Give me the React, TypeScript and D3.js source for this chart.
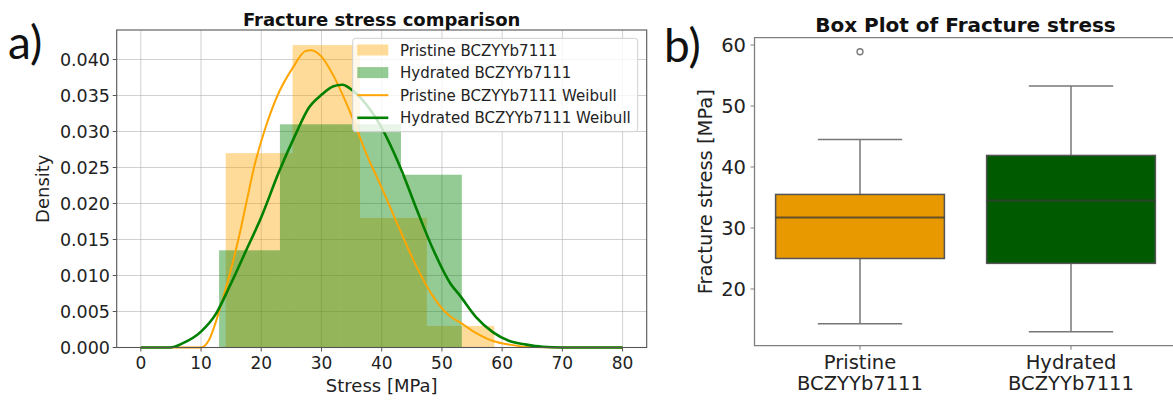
import React from 'react';
import * as d3 from 'd3';

// histogram bins (density)
const pristineEdges = [14.1, 25.2, 36.4, 47.5, 58.7];
const pristineDensity = [0.027, 0.042, 0.018, 0.003];
const hydratedEdges = [13.0, 23.1, 33.2, 43.2, 53.3];
const hydratedDensity = [0.0135, 0.031, 0.031, 0.024];

// weibull fits
const pristineFitX = [0, 5, 10, 11.3, 13.0, 14.7, 16.2, 17.5, 18.8, 20.5, 22.7, 25.2, 27.4, 28.3, 30, 31.9, 34.7, 37.5, 40, 43.1, 45.8, 48.6, 51.4, 53, 55.7, 58.5, 61.2, 64, 70, 80];
const pristineFitY = [0, 0, 0, 0.001, 0.005, 0.010, 0.015, 0.020, 0.025, 0.030, 0.035, 0.0388, 0.0412, 0.0413, 0.0404, 0.0379, 0.0328, 0.0268, 0.0222, 0.0162, 0.0112, 0.0070, 0.0043, 0.0035, 0.0020, 0.0009, 0.0004, 0.0001, 0, 0];
const hydratedFitX = [0, 4.8, 7, 10, 12.5, 14.7, 17.5, 20, 23, 25.7, 27.9, 30, 32, 33.5, 34.7, 37.5, 40, 43.1, 45.8, 48.6, 51.4, 53, 55.7, 58.5, 61.2, 64, 66.7, 70, 80];
const hydratedFitY = [0, 0, 0.0006, 0.0022, 0.0047, 0.0084, 0.0135, 0.0181, 0.0245, 0.0296, 0.0333, 0.0351, 0.0363, 0.0365, 0.0360, 0.0337, 0.0305, 0.0250, 0.0192, 0.0135, 0.0089, 0.0072, 0.0042, 0.0021, 0.0009, 0.0004, 0.0001, 0, 0];

const xTicks = [0, 10, 20, 30, 40, 50, 60, 70, 80];
const yTicks = [0, 0.005, 0.01, 0.015, 0.02, 0.025, 0.03, 0.035, 0.04];
const legendLabels = ['Pristine BCZYYb7111', 'Hydrated BCZYYb7111', 'Pristine BCZYYb7111 Weibull', 'Hydrated BCZYYb7111 Weibull'];

// box plot stats
const boxCategories = ['Pristine', 'Hydrated'];
const boxQ1 = [25.0, 24.2];
const boxMedian = [31.7, 34.5];
const boxQ3 = [35.5, 41.9];
const boxLow = [14.3, 13.0];
const boxHigh = [44.5, 53.3];
const boxOutliers = [[58.9], []];
const boxTicks = [20, 30, 40, 50, 60];

const ORANGE = '#ffa500';
const GREEN = '#008000';
const BOX_COLORS = ['#e89900', '#005a00'];
const FONT = 'DejaVu Sans, sans-serif';

export default function App() {
    const x = d3.scaleLinear().domain([-4, 84]).range([116.7, 646.7]);
    const y = d3.scaleLinear().domain([0, 0.0441]).range([347.5, 30]);

    const line = d3.line<number>().curve(d3.curveMonotoneX);
    const orangePath = line(pristineFitX.map((v, i) => [x(v), y(pristineFitY[i])]) as any);
    const greenPath = line(hydratedFitX.map((v, i) => [x(v), y(hydratedFitY[i])]) as any);

    const bx = d3.scaleBand().domain(boxCategories).range([754.5, 1176.5]).paddingInner(0.2).paddingOuter(0.1);
    const by = d3.scaleLinear().domain([10.7, 61.2]).range([345.7, 37.7]);
    const bw = bx.bandwidth();

    const bars = (edges: number[], dens: number[], color: string, op: number) =>
        dens.map((d, i) => (
            <rect key={i} x={x(edges[i])} y={y(d)} width={x(edges[i + 1]) - x(edges[i])} height={y(0) - y(d)}
                fill={color} fillOpacity={op} />
        ));

    return (
        <svg width={1173} height={401} style={{ position: 'absolute', left: 0, top: 0, background: 'white' }} fontFamily={FONT}>
            <text x={8} y={59} fontFamily="Lato, sans-serif" fontSize={46} fill="#111">a)</text>
            <text x={664} y={62} fontFamily="Lato, sans-serif" fontSize={46} fill="#111">b)</text>

            {/* left: histogram + weibull */}
            <g>
                {xTicks.map(t => <line key={'gx' + t} x1={x(t)} x2={x(t)} y1={30} y2={347.5} stroke="#b0b0b0" strokeOpacity={0.6} />)}
                {yTicks.map(t => <line key={'gy' + t} x1={116.7} x2={646.7} y1={y(t)} y2={y(t)} stroke="#b0b0b0" strokeOpacity={0.6} />)}
                {bars(pristineEdges, pristineDensity, ORANGE, 0.4)}
                {bars(hydratedEdges, hydratedDensity, GREEN, 0.42)}
                <path d={orangePath || ''} fill="none" stroke={ORANGE} strokeWidth={2} />
                <path d={greenPath || ''} fill="none" stroke={GREEN} strokeWidth={2.6} />
                <rect x={116.7} y={30} width={530} height={317.5} fill="none" stroke="#555" strokeWidth={1.1} />
                {xTicks.map(t => (
                    <g key={'tx' + t}>
                        <line x1={x(t)} x2={x(t)} y1={347.5} y2={351.5} stroke="#555" />
                        <text x={x(t)} y={368.5} textAnchor="middle" fontSize={17} fill="#222">{t}</text>
                    </g>
                ))}
                {yTicks.map(t => (
                    <g key={'ty' + t}>
                        <line x1={112.7} x2={116.7} y1={y(t)} y2={y(t)} stroke="#555" />
                        <text x={110} y={y(t) + 6.3} textAnchor="end" fontSize={17.5} fill="#222">{t.toFixed(3)}</text>
                    </g>
                ))}
                <text x={381.7} y={391.5} textAnchor="middle" fontSize={18} fill="#222">Stress [MPa]</text>
                <text transform="translate(49,188.7) rotate(-90)" textAnchor="middle" fontSize={18} fill="#222">Density</text>
                <text x={381.7} y={26} textAnchor="middle" fontSize={18} fontWeight="bold" fill="#111">Fracture stress comparison</text>

                <rect x={352.7} y={38.3} width={285} height={93.4} rx={3} fill="white" fillOpacity={0.8} stroke="#d0d0d0" />
                {legendLabels.map((lab, i) => {
                    const cy = 50 + i * 22.6;
                    return (
                        <g key={lab}>
                            {i < 2
                                ? <rect x={357.3} y={cy - 5.5} width={31} height={11} fill={i === 0 ? ORANGE : GREEN} fillOpacity={i === 0 ? 0.4 : 0.42} />
                                : <line x1={357.3} x2={388.3} y1={cy} y2={cy} stroke={i === 2 ? ORANGE : GREEN} strokeWidth={i === 2 ? 2 : 2.6} />}
                            <text x={400} y={cy + 5.5} fontSize={15} fill="#222">{lab}</text>
                        </g>
                    );
                })}
            </g>

            {/* right: box plot */}
            <g>
                {boxCategories.map((c, i) => {
                    const x0 = bx(c) as number;
                    const cx = x0 + bw / 2;
                    return (
                        <g key={c}>
                            <line x1={cx} x2={cx} y1={by(boxQ3[i])} y2={by(boxHigh[i])} stroke="#777" strokeWidth={1.5} />
                            <line x1={cx} x2={cx} y1={by(boxQ1[i])} y2={by(boxLow[i])} stroke="#777" strokeWidth={1.5} />
                            <line x1={cx - bw / 4} x2={cx + bw / 4} y1={by(boxHigh[i])} y2={by(boxHigh[i])} stroke="#777" strokeWidth={1.5} />
                            <line x1={cx - bw / 4} x2={cx + bw / 4} y1={by(boxLow[i])} y2={by(boxLow[i])} stroke="#777" strokeWidth={1.5} />
                            <rect x={x0} y={by(boxQ3[i])} width={bw} height={by(boxQ1[i]) - by(boxQ3[i])}
                                fill={BOX_COLORS[i]} stroke="#555" strokeWidth={1.5} />
                            <line x1={x0} x2={x0 + bw} y1={by(boxMedian[i])} y2={by(boxMedian[i])} stroke="#3a3a3a" strokeOpacity={0.75} strokeWidth={2} />
                            {boxOutliers[i].map((o, j) => <circle key={j} cx={cx} cy={by(o)} r={3} fill="none" stroke="#777" strokeWidth={1.3} />)}
                            <line x1={cx} x2={cx} y1={345.7} y2={349.7} stroke="#777" />
                            <text x={cx} y={368.8} textAnchor="middle" fontSize={19.5} fill="#222">{c}</text>
                            <text x={cx} y={390} textAnchor="middle" fontSize={19.5} fill="#222">BCZYYb7111</text>
                        </g>
                    );
                })}
                <path d={`M1176.5,37.7H754.5V345.7H1176.5`} fill="none" stroke="#808080" strokeWidth={1.3} />
                {boxTicks.map(t => (
                    <g key={'by' + t}>
                        <line x1={750.5} x2={754.5} y1={by(t)} y2={by(t)} stroke="#808080" />
                        <text x={746} y={by(t) + 7} textAnchor="end" fontSize={19.5} fill="#222">{t}</text>
                    </g>
                ))}
                <text transform="translate(712,191.7) rotate(-90)" textAnchor="middle" fontSize={19.5} fill="#222">Fracture stress [MPa]</text>
                <text x={965.5} y={32.3} textAnchor="middle" fontSize={20} fontWeight="bold" fill="#111">Box Plot of Fracture stress</text>
            </g>
        </svg>
    );
}
